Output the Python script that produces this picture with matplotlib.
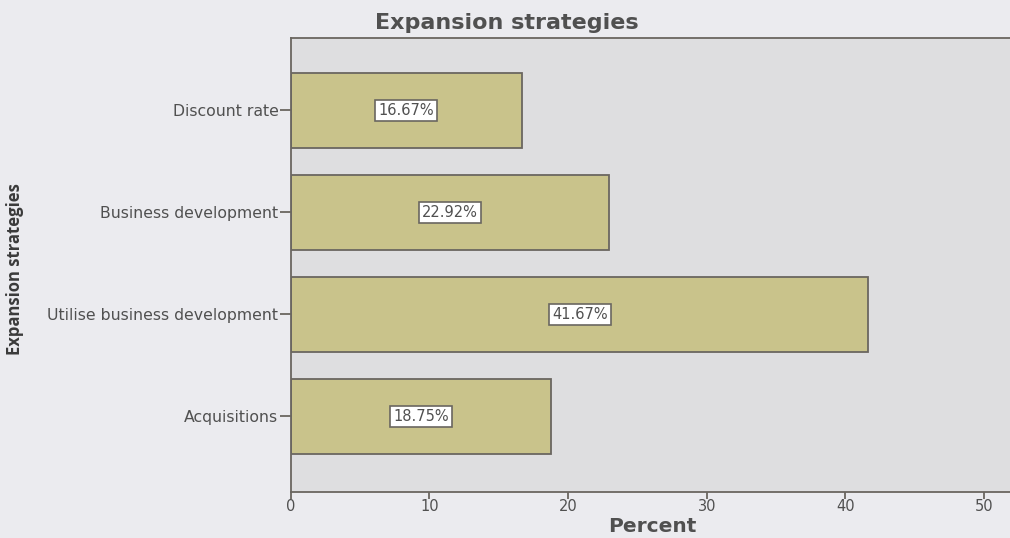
import matplotlib
matplotlib.use("Agg")
import matplotlib.pyplot as plt

# Expansion strategies - percent of respondents
categories = ['Discount rate', 'Business development', 'Utilise business development', 'Acquisitions']
percent = [16.67, 22.92, 41.67, 18.75]
value_labels = ['16.67%', '22.92%', '41.67%', '18.75%']
xticks = [0, 10, 20, 30, 40, 50]

paper = '#ebebef'
plot_bg = '#dedee0'
bar_col = '#c9c38b'
edge_col = '#6a6660'
text_col = '#505050'

fig = plt.figure(figsize=(10.1, 5.38), dpi=100, facecolor=paper)
ax = fig.add_axes([0.288, 0.0855, 0.715, 0.844])
ax.set_facecolor(plot_bg)

pos = list(range(len(categories)))
ax.barh(pos, percent, height=0.74, color=bar_col, edgecolor=edge_col, linewidth=1.3)

for p, v, lab in zip(pos, percent, value_labels):
    ax.text(v / 2, p, lab, ha='center', va='center', fontsize=10.5, color=text_col,
            bbox=dict(boxstyle='square,pad=0.22', facecolor='white', edgecolor=edge_col, linewidth=1.2))

ax.set_xlim(0, 52.1)
ax.set_ylim(3.74, -0.71)
ax.set_yticks(pos)
ax.set_yticklabels(categories, fontsize=11.3, color=text_col)
ax.set_xticks(xticks)
ax.set_xticklabels([str(t) for t in xticks], fontsize=10.5, color=text_col)
ax.tick_params(axis='y', direction='out', length=8, width=1.3, color=edge_col, pad=1)
ax.tick_params(axis='x', direction='out', length=5, width=1.3, color=edge_col, pad=0)

for side in ['left', 'bottom', 'top']:
    ax.spines[side].set_color(edge_col)
    ax.spines[side].set_linewidth(1.3)
ax.spines['right'].set_visible(False)

ax.set_xlabel('Percent', fontsize=14.5, fontweight='bold', color=text_col, labelpad=2)
fig.text(0.502, 0.958, 'Expansion strategies', ha='center', va='center',
         fontsize=16, fontweight='bold', color=text_col)
fig.text(0.015, 0.5, 'Expansion strategies', ha='center', va='center', rotation=90,
         fontsize=12, fontweight='bold', color='#3a3a3a', family='Open Sans')

fig.savefig('out.png', dpi=100, facecolor=paper)
